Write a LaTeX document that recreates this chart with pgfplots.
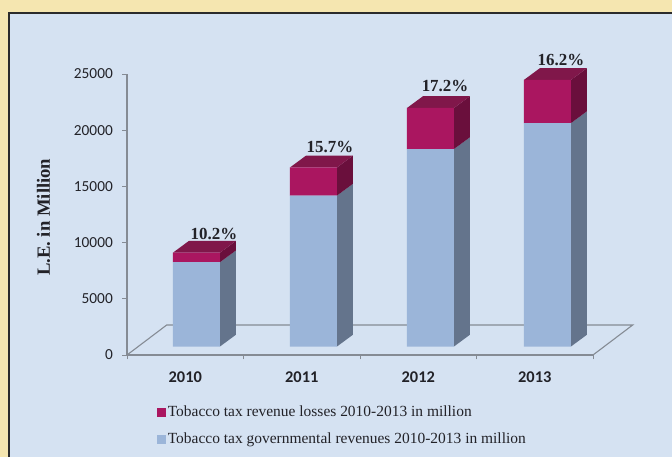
\documentclass[border=0pt]{standalone}
\usepackage{pgfplots}
\pgfplotsset{compat=1.18}
\usepackage{fontspec}
\setmainfont{Liberation Serif}
\newfontfamily\calibri{Carlito}

\definecolor{pagebg}{HTML}{F5E6B0}
\definecolor{panelbg}{HTML}{D5E2F2}
\definecolor{frameline}{HTML}{2B2B2B}
\definecolor{axisgray}{HTML}{858B94}
\definecolor{inktext}{HTML}{222228}
\definecolor{bluefront}{HTML}{9BB5D9}
\definecolor{blueside}{HTML}{64748C}
\definecolor{redfront}{HTML}{AA1660}
\definecolor{redside}{HTML}{6A0F3C}
\definecolor{redtop}{HTML}{80174A}

% one pixel of the 672 x 457 layout
\newlength{\px}
\setlength{\px}{0.75pt}

% half bar width, depth offsets and floor offset of the columns, in data units
\newcommand{\hw}{0.2017}
\newcommand{\dx}{0.1373}
\newcommand{\dy}{1050}
\newcommand{\base}{756}

% side and top faces of one column: centre, governmental revenue, losses
\newcommand{\columnfaces}[3]{%
  \addplot[fill=blueside,draw=none,forget plot] coordinates
    {(#1+\hw,\base) (#1+\hw+\dx,\base+\dy) (#1+\hw+\dx,\base+#2+\dy) (#1+\hw,\base+#2)} -- cycle;
  \addplot[fill=redside,draw=none,forget plot] coordinates
    {(#1+\hw,\base+#2) (#1+\hw+\dx,\base+#2+\dy) (#1+\hw+\dx,\base+#2+#3+\dy) (#1+\hw,\base+#2+#3)} -- cycle;
  \addplot[fill=redtop,draw=none,forget plot] coordinates
    {(#1-\hw,\base+#2+#3) (#1-\hw+\dx,\base+#2+#3+\dy) (#1+\hw+\dx,\base+#2+#3+\dy) (#1+\hw,\base+#2+#3)} -- cycle;
}

\pgfplotsset{
  layoutaxis/.style={
    scale only axis,
    width=466\px,
    height=281\px,
    at={(127\px,102\px)},
    anchor=south west,
    xmin=0, xmax=4,
    ymin=0, ymax=25000,
    clip=false,
  },
}
\tikzset{
  sharelabel/.style={anchor=base,text=inktext,font=\bfseries\fontsize{12.7}{14}\selectfont},
}

\begin{document}
\begin{tikzpicture}[x=1pt,y=1pt]
  \useasboundingbox (0,0) rectangle (672\px,457\px);
  \fill[pagebg] (0,0) rectangle (672\px,457\px);
  \fill[panelbg] (8.5\px,0) rectangle (672\px,444\px);
  \draw[frameline,line width=2\px] (8.5\px,0) -- (8.5\px,444\px) -- (672\px,444\px);

  % axes, floor, legend and the faces that lie behind the column fronts
  \begin{axis}[
    layoutaxis,
    axis x line=bottom,
    axis y line=left,
    axis line style={axisgray,line width=1.3\px,-},
    tick style={axisgray,line width=0.9\px},
    major tick length=4.5\px,
    tick align=outside,
    xtick={0,1,2,3,4},
    xticklabels={2010,2011,2012,2013},
    x tick label as interval,
    xticklabel style={font=\calibri\bfseries\fontsize{12.3}{14}\selectfont,text=inktext,yshift=-8\px},
    ytick={0,5000,10000,15000,20000,25000},
    scaled y ticks=false,
    yticklabel style={font=\calibri\fontsize{11.5}{14}\selectfont,text=inktext,
      /pgf/number format/assume math mode=true,
      /pgf/number format/fixed,/pgf/number format/1000 sep={},xshift=-5\px},
    ylabel={L.E. in Million},
    ylabel style={font=\bfseries\fontsize{14}{16}\selectfont,text=inktext,
      at={(axis description cs:-0.155,0.49)},anchor=south},
    legend cell align=left,
    legend style={
      at={(axis description cs:0.063,-0.169)},
      anchor=north west,
      draw=none,fill=none,
      font=\fontsize{11.6}{13}\selectfont,
      text=inktext,
      row sep=9\px,
      inner sep=0pt,
    },
  ]
    \addplot[axisgray,line width=1.1\px,forget plot] coordinates
      {(0,0) (0.341,2670) (4.341,2670) (4,0)};
    \columnfaces{0.5965}{7500}{850}
    \columnfaces{1.6008}{13430}{2500}
    \columnfaces{2.6051}{17570}{3650}
    \columnfaces{3.6094}{19880}{3840}

    \addlegendimage{legend image code/.code={\fill[redfront] (0,-4\px) rectangle (8\px,4\px);}}
    \addlegendentry{Tobacco tax revenue losses 2010-2013 in million}
    \addlegendimage{legend image code/.code={\fill[bluefront] (0,-4\px) rectangle (8\px,4\px);}}
    \addlegendentry{Tobacco tax governmental revenues 2010-2013 in million}

    % loss share of each year above its column
    \node[sharelabel] at (axis cs:0.746,10280) {10.2\%};
    \node[sharelabel] at (axis cs:1.742,18060) {15.7\%};
    \node[sharelabel] at (axis cs:2.730,23420) {17.2\%};
    \node[sharelabel] at (axis cs:3.725,25790) {16.2\%};
  \end{axis}

  % column fronts, stacked on an unpainted strip that lifts them off the floor edge
  \begin{axis}[
    layoutaxis,
    hide axis,
    ybar stacked,
    bar width=47\px,
  ]
    \addplot[fill=none,draw=none] table {
      x      v
      0.5965 756
      1.6008 756
      2.6051 756
      3.6094 756
    };
    \addplot[fill=bluefront,draw=none] table {
      x      v
      0.5965 7500
      1.6008 13430
      2.6051 17570
      3.6094 19880
    };
    \addplot[fill=redfront,draw=none] table {
      x      v
      0.5965 850
      1.6008 2500
      2.6051 3650
      3.6094 3840
    };
  \end{axis}
\end{tikzpicture}
\end{document}
